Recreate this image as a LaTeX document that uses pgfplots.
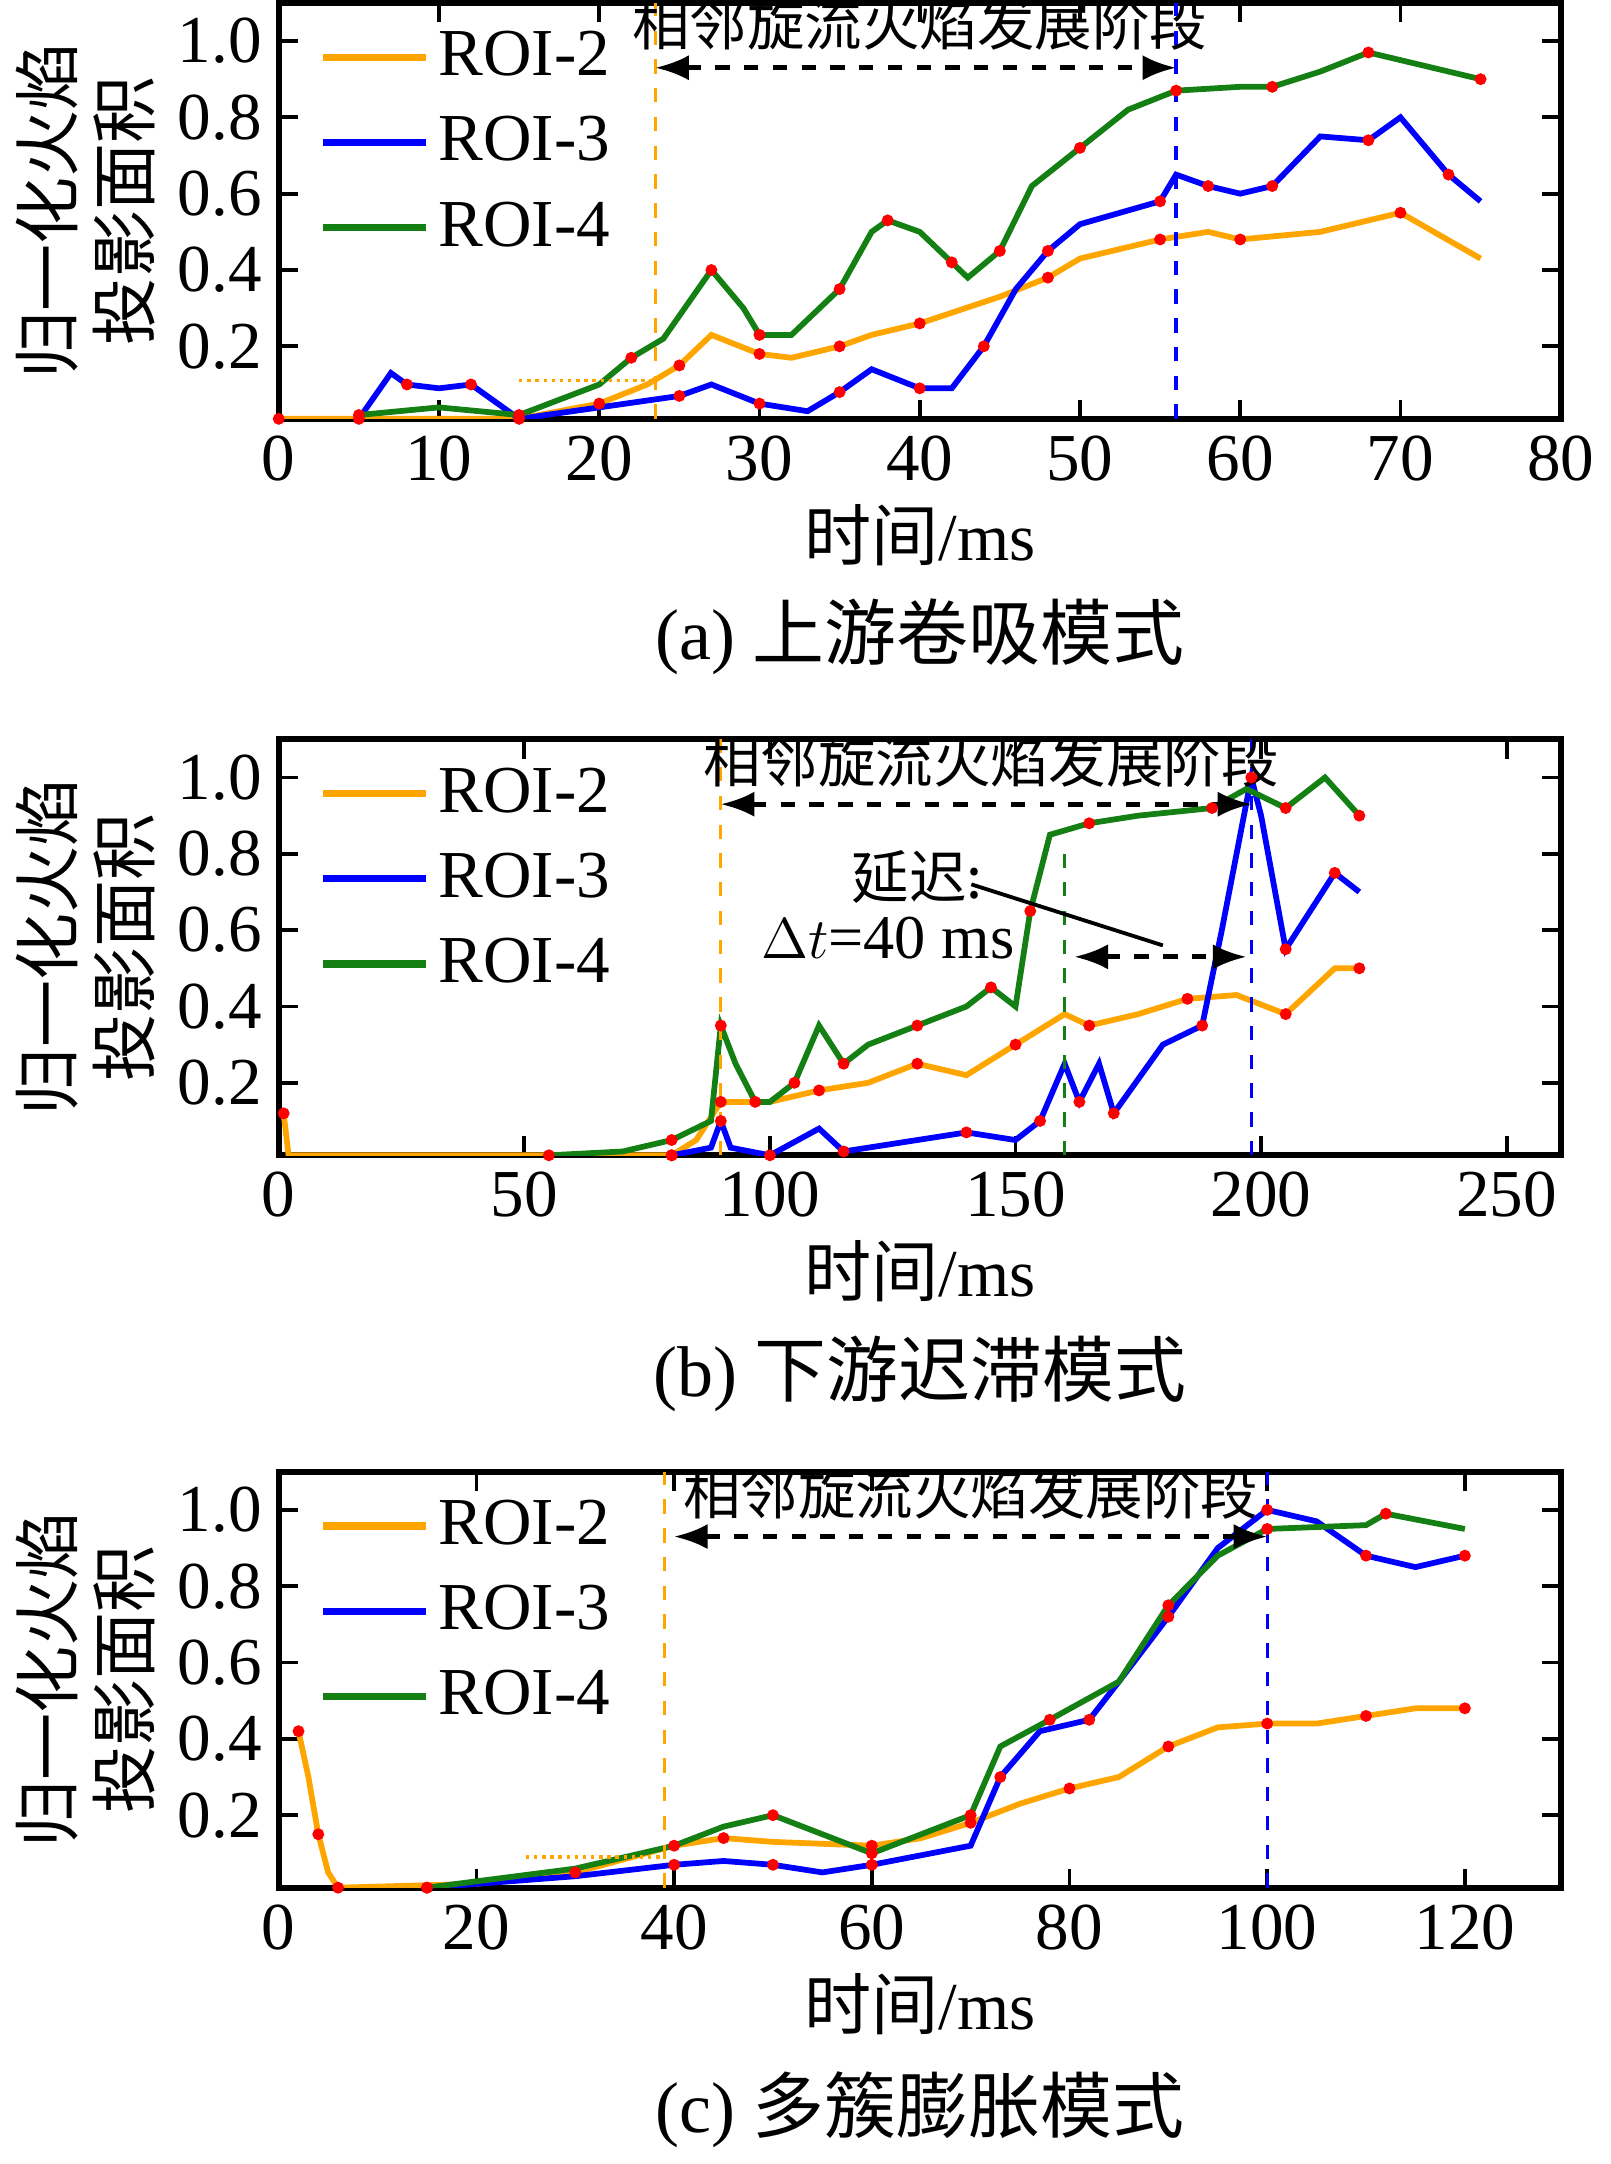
\documentclass[border=0pt]{standalone}
\usepackage{pgfplots}
\pgfplotsset{compat=1.18}
\usepackage{fontspec}
\setmainfont{Liberation Serif}
\newfontfamily\cjk{Noto Sans CJK SC}
\usetikzlibrary{arrows.meta}
\definecolor{c2}{RGB}{255,165,0}
\definecolor{c3}{RGB}{0,0,255}
\definecolor{c4}{RGB}{20,128,20}
\pgfplotsset{
  base/.style={
    width=94mm, height=30.5mm, scale only axis,
    ymin=0.01, ymax=1.1, ytick={0.2,0.4,0.6,0.8,1.0},
    yticklabel style={/pgf/number format/.cd,fixed,fixed zerofill,precision=1},
    tick align=inside, major tick length=4pt,
    axis line style={line width=1.2pt},
    tick style={line width=0.8pt,black},
    /pgf/number format/assume math mode=true,
    ticklabel style={font=\fontsize{14}{16}\selectfont},
    xlabel={{\cjk 时间}/ms},
    ylabel={归一化火焰\\投影面积},
    ylabel style={align=center,font=\cjk\fontsize{14}{16}\selectfont,yshift=-2pt},
    xlabel style={font=\fontsize{14}{16}\selectfont,yshift=2pt},
    legend style={draw=none,fill=none,at={(0.02,0.98)},anchor=north west,
      font=\fontsize{14}{16}\selectfont,row sep=3pt},
    legend cell align=left,
    legend image post style={line width=1.5pt},
    legend image code/.code={\draw[#1] (0cm,0cm) -- (0.75cm,0cm);},
    every axis plot/.append style={line width=1.2pt},
  },
  dots/.style={mark=*,mark repeat=2,mark options={red,draw=red,fill=red,scale=0.3}},
}
\begin{document}
\begin{tikzpicture}
% (a)
\begin{axis}[base, at={(0,0)}, anchor=north west, xmin=0, xmax=80, xtick={0,10,...,80}]
\addplot[c2,dots] coordinates {(0,0.01)(15,0.01)(20,0.05)(23,0.1)(25,0.15)(27,0.23)(30,0.18)(32,0.17)(35,0.2)(37,0.23)(40,0.26)(45,0.33)(48,0.38)(50,0.43)(55,0.48)(58,0.5)(60,0.48)(65,0.5)(70,0.55)(75,0.43)};
\addlegendentry{ROI-2}
\addplot[c3,dots] coordinates {(5,0.01)(7,0.13)(8,0.1)(10,0.09)(12,0.1)(14,0.04)(15,0.01)(20,0.04)(25,0.07)(27,0.1)(30,0.05)(33,0.03)(35,0.08)(37,0.14)(40,0.09)(42,0.09)(44,0.2)(46,0.35)(48,0.45)(50,0.52)(55,0.58)(56,0.65)(58,0.62)(60,0.6)(62,0.62)(65,0.75)(68,0.74)(70,0.8)(73,0.65)(75,0.58)};
\addlegendentry{ROI-3}
\addplot[c4,dots] coordinates {(5,0.02)(10,0.04)(15,0.02)(20,0.1)(22,0.17)(24,0.22)(27,0.4)(29,0.3)(30,0.23)(32,0.23)(35,0.35)(37,0.5)(38,0.53)(40,0.5)(42,0.42)(43,0.38)(45,0.45)(47,0.62)(50,0.72)(53,0.82)(56,0.87)(60,0.88)(62,0.88)(65,0.92)(68,0.97)(70,0.95)(75,0.9)};
\addlegendentry{ROI-4}
\draw[c2,dashed,line width=0.7pt] (axis cs:23.5,0.01) -- (axis cs:23.5,1.1);
\draw[c3,dashed,line width=0.7pt] (axis cs:56,0.01) -- (axis cs:56,1.1);
\draw[c2,densely dotted,line width=0.7pt] (axis cs:15,0.11) -- (axis cs:23.5,0.11);
\draw[dashed,line width=1pt,{Latex[length=7pt]}-{Latex[length=7pt]}] (axis cs:23.5,0.93) -- (axis cs:56,0.93);
\node[anchor=south,font=\cjk\fontsize{12}{13}\selectfont,inner sep=1pt] at (axis cs:40,0.96) {相邻旋流火焰发展阶段};
\end{axis}
\node[font=\fontsize{15}{17}\selectfont] at (47mm,-46.5mm) {(a) {\cjk 上游卷吸模式}};
% (b)
\begin{axis}[base, at={(0,-54mm)}, anchor=north west, xmin=0, xmax=261, xtick={0,50,...,250}]
\addplot[c2,dots] coordinates {(1,0.12)(2,0.01)(80,0.01)(85,0.05)(90,0.15)(100,0.15)(110,0.18)(120,0.2)(130,0.25)(140,0.22)(150,0.3)(160,0.38)(165,0.35)(175,0.38)(185,0.42)(195,0.43)(205,0.38)(215,0.5)(220,0.5)};
\addlegendentry{ROI-2}
\addplot[c3,dots] coordinates {(80,0.01)(88,0.03)(90,0.1)(92,0.03)(100,0.01)(110,0.08)(115,0.02)(130,0.05)(140,0.07)(150,0.05)(155,0.1)(160,0.25)(163,0.15)(167,0.25)(170,0.12)(180,0.3)(188,0.35)(192,0.6)(198,1.0)(200,0.9)(205,0.55)(210,0.65)(215,0.75)(220,0.7)};
\addlegendentry{ROI-3}
\addplot[c4,dots] coordinates {(55,0.01)(70,0.02)(80,0.05)(88,0.1)(90,0.35)(93,0.25)(97,0.15)(100,0.15)(105,0.2)(110,0.35)(115,0.25)(120,0.3)(130,0.35)(140,0.4)(145,0.45)(150,0.4)(153,0.65)(157,0.85)(165,0.88)(175,0.9)(190,0.92)(197,0.97)(205,0.92)(213,1.0)(220,0.9)};
\addlegendentry{ROI-4}
\draw[c2,dashed,line width=0.7pt] (axis cs:90,0.01) -- (axis cs:90,1.1);
\draw[c4,dashed,line width=0.7pt] (axis cs:160,0.01) -- (axis cs:160,0.8);
\draw[c3,dashed,line width=0.7pt] (axis cs:198,0.01) -- (axis cs:198,1.1);
\draw[dashed,line width=1pt,{Latex[length=7pt]}-{Latex[length=7pt]}] (axis cs:90,0.93) -- (axis cs:198,0.93);
\draw[dashed,line width=1pt,{Latex[length=7pt]}-{Latex[length=7pt]}] (axis cs:162,0.53) -- (axis cs:197,0.53);
\node[anchor=south,font=\cjk\fontsize{12}{13}\selectfont,inner sep=1pt] at (axis cs:145,0.96) {相邻旋流火焰发展阶段};
\node[font=\cjk\fontsize{12}{13}\selectfont] at (axis cs:130,0.74) {延迟:};
\node[font=\fontsize{13}{14}\selectfont] at (axis cs:124,0.58) {$\Delta t$=40 ms};
\draw[line width=0.8pt] (axis cs:141,0.72) -- (axis cs:180,0.56);
\end{axis}
\node[font=\fontsize{15}{17}\selectfont] at (47mm,-100.5mm) {(b) {\cjk 下游迟滞模式}};
% (c)
\begin{axis}[base, at={(0,-107.7mm)}, anchor=north west, xmin=0, xmax=129.7, xtick={0,20,...,120}]
\addplot[c2,dots] coordinates {(2,0.42)(3,0.3)(4,0.15)(5,0.05)(6,0.01)(20,0.02)(30,0.05)(40,0.12)(45,0.14)(50,0.13)(60,0.12)(65,0.14)(70,0.18)(75,0.23)(80,0.27)(85,0.3)(90,0.38)(95,0.43)(100,0.44)(105,0.44)(110,0.46)(115,0.48)(120,0.48)};
\addlegendentry{ROI-2}
\addplot[c3,dots] coordinates {(15,0.01)(30,0.04)(40,0.07)(45,0.08)(50,0.07)(55,0.05)(60,0.07)(70,0.12)(73,0.3)(77,0.42)(82,0.45)(85,0.55)(90,0.72)(95,0.9)(100,1.0)(105,0.97)(110,0.88)(115,0.85)(120,0.88)};
\addlegendentry{ROI-3}
\addplot[c4,dots] coordinates {(15,0.01)(30,0.06)(40,0.12)(45,0.17)(50,0.2)(55,0.15)(60,0.1)(65,0.15)(70,0.2)(73,0.38)(78,0.45)(85,0.55)(90,0.75)(95,0.88)(100,0.95)(110,0.96)(112,0.99)(120,0.95)};
\addlegendentry{ROI-4}
\draw[c2,dashed,line width=0.7pt] (axis cs:39,0.01) -- (axis cs:39,1.1);
\draw[c3,dashed,line width=0.7pt] (axis cs:100,0.01) -- (axis cs:100,1.1);
\draw[c2,densely dotted,line width=0.7pt] (axis cs:25,0.09) -- (axis cs:39,0.09);
\draw[dashed,line width=1pt,{Latex[length=7pt]}-{Latex[length=7pt]}] (axis cs:40,0.93) -- (axis cs:100,0.93);
\node[anchor=south,font=\cjk\fontsize{12}{13}\selectfont,inner sep=1pt] at (axis cs:70,0.96) {相邻旋流火焰发展阶段};
\end{axis}
\node[font=\fontsize{15}{17}\selectfont] at (47mm,-154.5mm) {(c) {\cjk 多簇膨胀模式}};
\end{tikzpicture}
\end{document}
